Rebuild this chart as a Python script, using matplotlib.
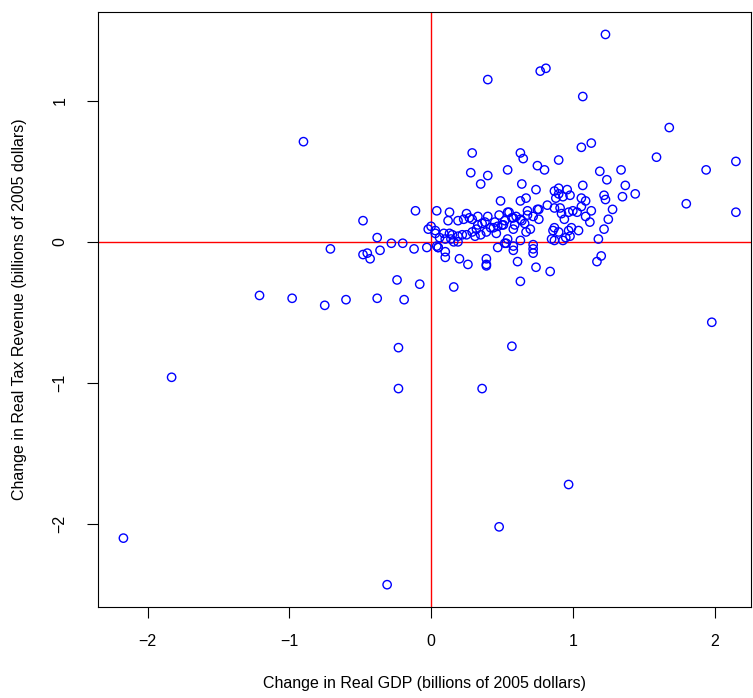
import matplotlib
matplotlib.use("Agg")
import matplotlib.pyplot as plt

plt.rcParams['font.family'] = ['Liberation Sans', 'DejaVu Sans']

# change in real GDP vs change in real tax revenue
gdp = [-2.17, -1.83, -1.21, -0.98, -0.90, -0.75, -0.71, -0.60, -0.48, -0.48, -0.45, -0.43,
       -0.38, -0.38, -0.36, -0.28, -0.24, -0.23, -0.23, -0.19, -0.20, -0.12, -0.11, -0.08,
       -0.31, -0.03, -0.02, 0.00, 0.03, 0.04, 0.04, 0.05, 0.16, 0.36, 0.48, 0.57, 0.97,
       1.98, 2.15, 2.15, 1.94, 1.80, 1.68, 1.59, 1.44, 1.37, 1.34, 1.35, 1.28, 1.25, 1.24,
       1.23, 1.22, 1.23, 1.22, 1.18, 1.19, 1.20, 1.17, 1.13, 1.07, 1.06, 1.07, 0.81, 0.77,
       0.40, 0.29, 0.28, 0.40, 0.35, 0.63, 0.65, 0.75, 0.80, 0.90, 0.64, 0.54, 0.84, 0.74,
       0.61, 0.63, 0.13, 0.12, 0.19, 0.23, 0.29, 0.33, 0.40, 0.48, 0.55, 0.03, 0.09, 0.13,
       0.19, 0.25, 0.29, 0.32, 0.35, 0.39, 0.44, 0.47, 0.50, 0.58, 0.58, 0.05, 0.10, 0.10,
       0.16, 0.19, 0.20, 0.26, 0.39, 0.39, 0.39, 0.47, 0.53, 0.58, 1.13, 1.09, 1.12, 1.06,
       1.09, 1.06, 1.03, 1.00, 1.04, 0.99, 0.97, 0.98, 0.95, 0.96, 0.98, 0.93, 0.90, 0.87,
       0.90, 0.88, 0.87, 0.91, 0.92, 0.97, 0.94, 0.87, 0.86, 0.90, 0.87, 0.93, 0.74, 0.67,
       0.63, 0.75, 0.76, 0.76, 0.72, 0.68, 0.68, 0.64, 0.66, 0.70, 0.67, 0.72, 0.72, 0.72,
       0.58, 0.63, 0.54, 0.52, 0.54, 0.60, 0.59, 0.52, 0.63, 0.57, 0.45, 0.51, 0.25, 0.38,
       0.10, 0.33, 0.36, 0.42, 0.14, 0.22, 0.31, 0.27, 0.46, 0.49, 0.82, 0.85, 0.06, 0.15]
rev = [-2.10, -0.96, -0.38, -0.40, 0.71, -0.45, -0.05, -0.41, 0.15, -0.09, -0.08, -0.12,
       -0.40, 0.03, -0.06, -0.01, -0.27, -0.75, -1.04, -0.41, -0.01, -0.05, 0.22, -0.30,
       -2.43, -0.04, 0.09, 0.11, 0.06, 0.22, -0.03, -0.04, -0.32, -1.04, -2.02, -0.74, -1.72,
       -0.57, 0.21, 0.57, 0.51, 0.27, 0.81, 0.60, 0.34, 0.40, 0.51, 0.32, 0.23, 0.16, 0.44,
       1.47, 0.33, 0.30, 0.09, 0.02, 0.50, -0.10, -0.14, 0.70, 1.03, 0.67, 0.40, 1.23, 1.21,
       1.15, 0.63, 0.49, 0.47, 0.41, 0.63, 0.59, 0.54, 0.51, 0.58, 0.41, 0.51, -0.21, -0.18,
       -0.14, -0.28, 0.21, 0.15, 0.15, 0.16, 0.16, 0.18, 0.18, 0.19, 0.21, 0.08, 0.06, 0.06,
       0.04, 0.05, 0.07, 0.09, 0.05, 0.07, 0.10, 0.11, 0.12, 0.17, 0.09, -0.04, -0.07, -0.11,
       0.00, 0.00, -0.12, -0.16, -0.12, -0.16, -0.17, -0.04, -0.01, -0.06, 0.22, 0.18, 0.14, 0.31,
       0.29, 0.25, 0.21, 0.22, 0.08, 0.10, 0.08, 0.04, 0.03, 0.37, 0.33, 0.32, 0.38, 0.36,
       0.34, 0.31, 0.24, 0.24, 0.20, 0.21, 0.16, 0.10, 0.08, 0.07, 0.01, 0.01, 0.37, 0.31,
       0.29, 0.23, 0.23, 0.16, 0.18, 0.22, 0.19, 0.15, 0.13, 0.09, 0.07, -0.02, -0.05, -0.08,
       -0.03, 0.01, 0.02, -0.01, 0.21, 0.18, 0.12, 0.15, 0.16, 0.17, 0.14, 0.12, 0.20, 0.14,
       0.02, 0.12, 0.13, 0.10, 0.02, 0.05, 0.04, 0.17, 0.06, 0.29, 0.26, 0.02, 0.03, 0.05]

fig = plt.figure(figsize=(7.53, 6.98), dpi=100)
ax = fig.add_axes([0.13, 0.13, 0.868, 0.853])
ax.scatter(gdp, rev, s=36, facecolors="none", edgecolors="blue", linewidths=1.0, zorder=3)
ax.axhline(0, color="red", lw=1)
ax.axvline(0, color="red", lw=1)

ax.set_xlim(-2.35, 2.26)
ax.set_ylim(-2.59, 1.63)
ax.set_xticks([-2, -1, 0, 1, 2])
ax.set_yticks([-2, -1, 0, 1])
ax.set_xticklabels(["\u22122", "\u22121", "0", "1", "2"])
ax.set_yticklabels(["\u22122", "\u22121", "0", "1"], rotation=90, va="center")
ax.tick_params(direction="out", length=8, labelsize=11.5, pad=11)
ax.tick_params(axis="y", pad=14)
for s in ax.spines.values():
    s.set_linewidth(0.8)

ax.set_xlabel("Change in Real GDP (billions of 2005 dollars)", fontsize=11.5, labelpad=20)
ax.set_ylabel("Change in Real Tax Revenue (billions of 2005 dollars)", fontsize=11.5, labelpad=18)

fig.savefig("out.png", dpi=100)
